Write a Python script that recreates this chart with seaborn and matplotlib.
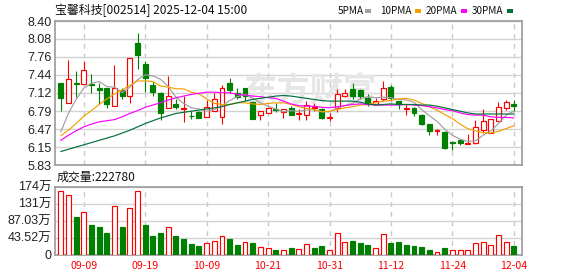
import numpy as np
import pandas as pd
import matplotlib
matplotlib.use("Agg")
import matplotlib.pyplot as plt
import seaborn as sns

# ---------------- data ----------------
dates = ["09-04", "09-05", "09-08", "09-09", "09-10", "09-11", "09-12", "09-15", "09-16", "09-17",
         "09-18", "09-19", "09-22", "09-23", "09-24", "09-25", "09-26", "09-29", "09-30", "10-09",
         "10-10", "10-13", "10-14", "10-15", "10-16", "10-17", "10-20", "10-21", "10-22", "10-23",
         "10-24", "10-27", "10-28", "10-29", "10-30", "10-31", "11-03", "11-04", "11-05", "11-06",
         "11-07", "11-10", "11-11", "11-12", "11-13", "11-14", "11-17", "11-18", "11-19", "11-20",
         "11-21", "11-24", "11-25", "11-26", "11-27", "11-28", "12-01", "12-02", "12-03", "12-04"]

opens = [7.30, 6.93, 7.30, 7.27, 7.28, 7.20, 7.20, 6.89, 7.17, 7.07,
         8.00, 7.64, 7.26, 7.12, 6.85, 6.92, 6.83, 6.71, 6.77, 6.68,
         6.79, 6.68, 7.30, 7.12, 7.21, 6.96, 6.72, 6.75, 6.83, 6.77,
         6.85, 6.74, 6.73, 6.85, 6.83, 6.67, 6.84, 7.06, 7.19, 7.16,
         7.03, 6.91, 7.00, 7.22, 6.97, 6.83, 6.85, 6.73, 6.56, 6.43,
         6.42, 6.24, 6.27, 6.21, 6.22, 6.46, 6.40, 6.62, 6.85, 6.92]
highs = [7.30, 7.71, 7.50, 7.69, 7.46, 7.30, 7.20, 7.61, 7.20, 7.74,
         8.19, 7.69, 7.33, 7.14, 7.42, 7.01, 7.07, 6.79, 6.80, 6.99,
         7.12, 7.26, 7.39, 7.20, 7.21, 6.97, 6.79, 6.87, 6.93, 6.83,
         6.89, 6.83, 6.98, 6.93, 6.85, 6.75, 7.19, 7.19, 7.30, 7.19,
         7.09, 7.03, 7.33, 7.26, 6.97, 6.92, 6.86, 6.74, 6.56, 6.47,
         6.43, 6.26, 6.27, 6.39, 6.63, 6.83, 6.65, 6.95, 6.99, 6.99]
lows = [6.79, 6.93, 7.05, 7.27, 7.12, 6.92, 6.85, 6.89, 7.00, 6.93,
        7.54, 7.13, 7.06, 6.63, 6.85, 6.83, 6.60, 6.65, 6.67, 6.68,
        6.79, 6.57, 7.12, 7.00, 6.98, 6.65, 6.63, 6.75, 6.77, 6.66,
        6.73, 6.63, 6.63, 6.79, 6.65, 6.61, 6.77, 7.04, 7.00, 7.00,
        6.88, 6.91, 6.97, 6.97, 6.83, 6.73, 6.70, 6.55, 6.36, 6.36,
        6.12, 6.09, 6.18, 6.21, 6.20, 6.40, 6.40, 6.62, 6.82, 6.79]
closes = [7.03, 7.37, 7.27, 7.53, 7.26, 7.16, 6.92, 7.21, 7.06, 7.74,
          7.80, 7.38, 7.13, 6.76, 7.07, 6.86, 6.85, 6.70, 6.67, 6.86,
          7.00, 7.21, 7.16, 7.05, 7.06, 6.65, 6.79, 6.85, 6.81, 6.83,
          6.73, 6.76, 6.90, 6.86, 6.67, 6.69, 7.10, 7.12, 7.07, 7.06,
          6.91, 6.97, 7.21, 7.02, 6.91, 6.85, 6.76, 6.57, 6.43, 6.45,
          6.13, 6.22, 6.22, 6.23, 6.51, 6.61, 6.65, 6.86, 6.95, 6.89]

ma5 = [6.42, 6.75, 7.00, 7.20, 7.29, 7.32, 7.23, 7.22, 7.12, 7.22,
       7.35, 7.44, 7.42, 7.36, 7.23, 7.04, 6.93, 6.85, 6.83, 6.79,
       6.82, 6.89, 6.98, 7.05, 7.09, 7.02, 6.94, 6.88, 6.83, 6.78,
       6.80, 6.79, 6.81, 6.82, 6.78, 6.78, 6.85, 6.89, 6.93, 7.01,
       7.05, 7.03, 7.04, 7.03, 7.00, 6.99, 6.95, 6.82, 6.71, 6.61,
       6.47, 6.36, 6.29, 6.25, 6.26, 6.36, 6.44, 6.57, 6.72, 6.79]
ma10 = [6.35, 6.45, 6.57, 6.70, 6.80, 6.91, 7.01, 7.10, 7.17, 7.25,
        7.33, 7.33, 7.32, 7.24, 7.22, 7.19, 7.19, 7.13, 7.10, 7.01,
        6.93, 6.91, 6.91, 6.94, 6.94, 6.92, 6.91, 6.93, 6.94, 6.94,
        6.91, 6.87, 6.84, 6.82, 6.78, 6.79, 6.82, 6.85, 6.87, 6.90,
        6.91, 6.94, 6.97, 6.98, 7.01, 7.02, 6.99, 6.93, 6.87, 6.81,
        6.73, 6.66, 6.56, 6.48, 6.44, 6.41, 6.40, 6.43, 6.48, 6.53]
ma20 = [6.27, 6.36, 6.44, 6.51, 6.56, 6.60, 6.62, 6.64, 6.69, 6.75,
        6.80, 6.86, 6.90, 6.94, 6.99, 7.03, 7.06, 7.09, 7.11, 7.13,
        7.13, 7.12, 7.12, 7.09, 7.08, 7.06, 7.05, 7.03, 7.02, 6.97,
        6.92, 6.89, 6.88, 6.88, 6.86, 6.85, 6.87, 6.89, 6.91, 6.92,
        6.91, 6.90, 6.90, 6.90, 6.90, 6.91, 6.90, 6.89, 6.87, 6.85,
        6.82, 6.80, 6.76, 6.73, 6.72, 6.72, 6.69, 6.68, 6.68, 6.67]
ma30 = [6.07, 6.11, 6.15, 6.19, 6.23, 6.27, 6.31, 6.35, 6.40, 6.45,
        6.51, 6.57, 6.62, 6.67, 6.71, 6.75, 6.77, 6.79, 6.81, 6.83,
        6.85, 6.87, 6.91, 6.94, 6.97, 7.00, 7.02, 7.04, 7.06, 7.07,
        7.06, 7.04, 7.02, 7.00, 6.98, 6.97, 6.97, 6.97, 6.97, 6.95,
        6.92, 6.90, 6.91, 6.92, 6.91, 6.91, 6.91, 6.90, 6.90, 6.88,
        6.85, 6.82, 6.79, 6.76, 6.74, 6.74, 6.74, 6.74, 6.74, 6.74]

# volume in 万 shares; direction vs previous close (R = up, G = down)
volume = [162, 152, 96.5, 108.5, 76, 71, 55.5, 124, 71, 118.8,
          162, 76, 47.9, 55.5, 70, 48, 40, 27.4, 22.3, 29,
          34.3, 47, 40, 24.8, 31.7, 30, 19, 16.4, 12.8, 12,
          16, 13.8, 26.6, 17, 22.3, 11.2, 54.8, 31.7, 35, 30,
          24.8, 16.4, 52.2, 30, 32.5, 24.8, 22.3, 19.7, 12.8, 6.9,
          17.2, 11.2, 11.2, 11.2, 30, 31.7, 24.8, 50.4, 31.7, 22.278]
vol_dir = list("RRGRGGGRGR" "RGGGRGGGGR" "RRGGRGRRGR" "GRRGGRRRGG" "GRRGGGGGGR" "GRRRRRRRRG")

price_ticks = [5.83, 6.15, 6.47, 6.79, 7.12, 7.44, 7.76, 8.08, 8.40]
price_labels = ["5.83", "6.15", "6.47", "6.79", "7.12", "7.44", "7.76", "8.08", "8.40"]
vol_ticks = [0, 43.52, 87.03, 130.55, 174.07]
vol_labels = ["0", "43.52万", "87.03万", "131万", "174万"]
date_ticks = ["09-09", "09-19", "10-09", "10-21", "10-31", "11-12", "11-24", "12-04"]

title = "宝馨科技[002514] 2025-12-04 15:00"
ma_names = ["5PMA", "10PMA", "20PMA", "30PMA"]
vol_title = "成交量:222780"

# ---------------- style ----------------
RED = "#ff0000"
GREEN = "#008000"
MA_COLORS = ["#a0a0a0", "#f5a000", "#ff00ff", "#00703a"]
GRID = "#d3d3d3"
FRAME = "#9a9a9a"

sns.set_theme(style="white")
plt.rcParams["font.family"] = ["Liberation Sans", "Noto Sans CJK SC", "DejaVu Sans"]
CJK = ["Noto Sans CJK SC", "DejaVu Sans"]

W, H = 578, 276
fig = plt.figure(figsize=(W / 100, H / 100), dpi=100)
fig.patch.set_facecolor("white")
L, R = 55, 522
ax = fig.add_axes([L / W, 1 - 165 / H, (R - L) / W, 144 / H])
axv = fig.add_axes([L / W, 1 - 254.7 / H, (R - L) / W, 68 / H])

df = pd.DataFrame({"i": np.arange(len(dates)), "date": dates, "open": opens, "high": highs,
                   "low": lows, "close": closes, "ma5": ma5, "ma10": ma10, "ma20": ma20,
                   "ma30": ma30, "vol": volume, "dir": vol_dir})
xs = df["i"].to_numpy()
step = 7.68
x0 = 60.7
xmin = -(x0 - L) / step
xmax = (R - x0) / step

# ---------------- price panel ----------------
up = df["close"] >= df["open"]
cols = np.where(up, RED, GREEN)
ax.vlines(xs, df["low"], df["high"], colors=cols, lw=0.8, zorder=3)
body_bottom = np.minimum(df["open"], df["close"])
body_h = np.maximum(np.abs(df["close"] - df["open"]), 0.004)
ax.bar(xs, body_h, bottom=body_bottom, width=0.64,
       facecolor=np.where(up, "white", GREEN), edgecolor=cols, linewidth=0.85, zorder=4)

for name, c in zip(["ma5", "ma10", "ma20", "ma30"], MA_COLORS):
    sns.lineplot(data=df, x="i", y=name, ax=ax, color=c, lw=0.85, zorder=5, legend=False)

ax.text(0.545, 0.51, "东方财富", transform=ax.transAxes, ha="center", va="center",
        fontsize=24, fontweight="bold", color="#e6e6e6", family=CJK, zorder=1)

ax.set_xlim(xmin, xmax)
ax.set_ylim(price_ticks[0], price_ticks[-1])
ax.set_yticks(price_ticks)
ax.set_yticklabels(price_labels)
tick_pos = [dates.index(d) for d in date_ticks]
ax.set_xticks(tick_pos)
ax.set_xticklabels([])
ax.set_xlabel("")
ax.set_ylabel("")

# ---------------- volume panel ----------------
vup = df["dir"] == "R"
vcols = np.where(vup, RED, GREEN)
axv.bar(xs, df["vol"], width=0.64, facecolor=np.where(vup, "white", GREEN),
        edgecolor=vcols, linewidth=0.85, zorder=4)
axv.set_xlim(xmin, xmax)
axv.set_ylim(vol_ticks[0], vol_ticks[-1])
axv.set_yticks(vol_ticks)
axv.set_yticklabels(vol_labels)
axv.set_xticks(tick_pos)
axv.set_xticklabels(date_ticks, color=RED, family=CJK, fontsize=7.6)

for a in (ax, axv):
    a.grid(False)
    a.grid(axis="y", color=GRID, lw=1.0, ls="-", zorder=0)
    a.grid(axis="x", color="#c8c8c8", lw=1.0, ls=(0, (3.5, 3.5)), zorder=0)
    a.set_axisbelow(True)
    for s in a.spines.values():
        s.set_color(FRAME)
        s.set_linewidth(1.2)
    a.tick_params(axis="y", length=0, pad=2.5, labelsize=9, labelcolor="#222222")
    a.tick_params(axis="x", length=0, pad=4.5)
    a.set_facecolor("white")

# ---------------- texts ----------------
fig.text(55 / W, 1 - 10.5 / H, title, ha="left", va="center", fontsize=8.6,
         family=CJK, color="#111111")
leg_x = [338, 380, 426, 472]
sq_x = [365, 415, 461, 507]
for name, lx, sx, c in zip(ma_names, leg_x, sq_x, MA_COLORS):
    fig.text(lx / W, 1 - 10.5 / H, name, ha="left", va="center", fontsize=7.2,
             family=CJK, color="#111111")
    fig.patches.append(plt.Rectangle((sx / W, 1 - 12.5 / H), 6 / W, 4 / H,
                                     transform=fig.transFigure, facecolor=c,
                                     edgecolor="none"))
fig.text(57 / W, 1 - 177.5 / H, vol_title, ha="left", va="center", fontsize=8.6,
         family=CJK, color="#111111")

fig.savefig("out.png", dpi=100, facecolor="white")
